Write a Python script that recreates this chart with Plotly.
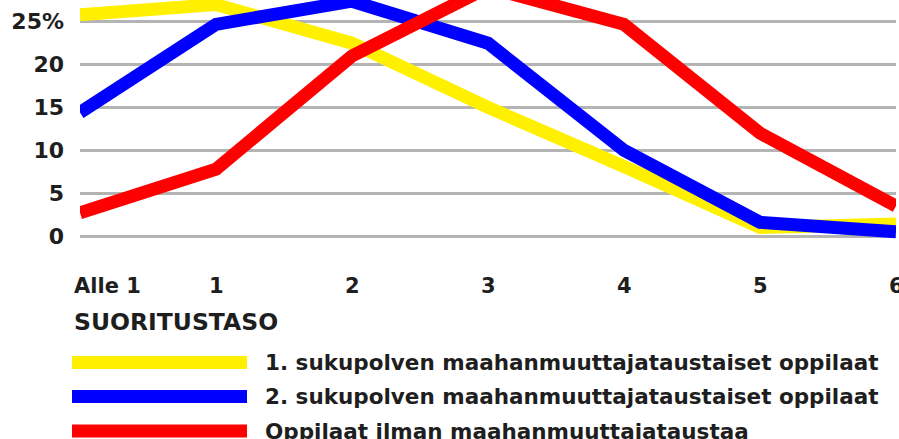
import plotly.graph_objects as go

# ---- data ----
levels = [0, 1, 2, 3, 4, 5, 6]
level_labels = ["Alle 1", "1", "2", "3", "4", "5", "6"]
first_gen = [25.8, 27.0, 22.5, 15.0, 8.1, 1.0, 1.4]
second_gen = [14.4, 24.7, 27.4, 22.5, 10.0, 1.6, 0.5]
no_background = [2.7, 7.8, 21.0, 29.0, 24.7, 12.0, 3.5]
series_names = [
    "1. sukupolven maahanmuuttajataustaiset oppilaat",
    "2. sukupolven maahanmuuttajataustaiset oppilaat",
    "Oppilaat ilman maahanmuuttajataustaa",
]
y_tickvals = [0, 5, 10, 15, 20, 25]
y_ticktext = ["0", "5", "10", "15", "20", "25%"]
x_title = "SUORITUSTASO"

colors = ["#FFF000", "#0000FF", "#FF0000"]
FONT = "DejaVu Sans"
TXT = "#1e1e1e"
FS = 21

W, H = 899, 439
L, R, T, B = 80, 3, 0, 194
PW = W - L - R
PH = H - T - B

fig = go.Figure()
for vals, name, col in zip([first_gen, second_gen, no_background], series_names, colors):
    fig.add_trace(go.Scatter(
        x=levels, y=vals, mode="lines", name=name,
        line=dict(color=col, width=13),
        showlegend=False, hoverinfo="skip",
    ))

def py2paper(py):
    return (PH - (py - T)) / PH

def px2paper(px):
    return (px - L) / PW

annotations = []
# x tick labels
for xv, lab in zip(levels, level_labels):
    first = lab == level_labels[0]
    annotations.append(dict(
        x=xv, xref="x", y=0, yref="paper", text=lab, showarrow=False,
        xanchor="left" if first else "center", yanchor="middle",
        xshift=-8 if first else 0, yshift=-41,
        font=dict(family=FONT, size=FS, color=TXT, weight="bold"),
    ))
# axis title
annotations.append(dict(
    x=0, xref="paper", y=0, yref="paper", text=x_title, showarrow=False,
    xanchor="left", yanchor="middle", xshift=-8, yshift=-77,
    font=dict(family=FONT, size=23.5, color=TXT, weight="bold"),
))

# manual legend
shapes = []
row_centers = [362.5, 396.5, 431]
for name, col, cy in zip(series_names, colors, row_centers):
    shapes.append(dict(
        type="rect", xref="paper", yref="paper",
        x0=px2paper(72), x1=px2paper(247),
        y0=py2paper(cy + 6.5), y1=py2paper(cy - 6.5),
        fillcolor=col, line=dict(width=0),
    ))
    annotations.append(dict(
        x=px2paper(263), xref="paper", y=py2paper(cy), yref="paper",
        text=name, showarrow=False, xanchor="left", yanchor="middle",
        font=dict(family=FONT, size=21.5, color=TXT, weight="bold"),
    ))

y_bottom = -(245 - 236) / 8.57
y_top = 236 / 8.57

fig.update_layout(
    width=W, height=H,
    margin=dict(l=L, r=R, t=T, b=B, pad=0),
    paper_bgcolor="white", plot_bgcolor="white",
    showlegend=False,
    xaxis=dict(range=[0, 6], showgrid=False, zeroline=False,
               showticklabels=False, showline=False, ticks="", fixedrange=True),
    yaxis=dict(range=[y_bottom, y_top], tickvals=y_tickvals, ticktext=y_ticktext,
               showgrid=True, gridcolor="#b4b4b4", gridwidth=2.5,
               zeroline=False, showline=False, ticks="",
               ticklabelstandoff=15,
               tickfont=dict(family=FONT, size=22, color=TXT, weight="bold"),
               fixedrange=True),
    annotations=annotations,
    shapes=shapes,
)

fig.write_html(
    "out.html",
    config={"displayModeBar": False},
    post_script="document.body.style.margin='0px';document.body.style.overflow='hidden';",
)
